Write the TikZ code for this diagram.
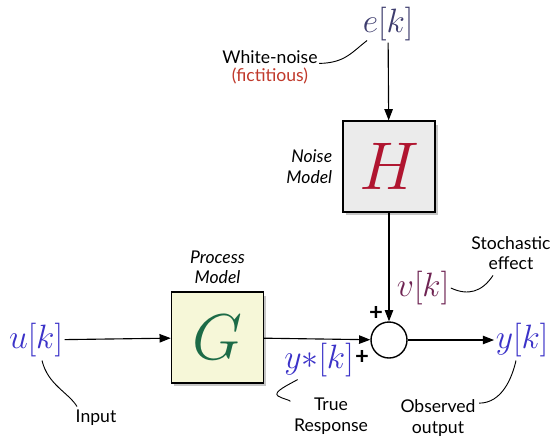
\RequirePackage{fix-cm}
\documentclass[tikz,border=0pt]{standalone}
\usepackage{fontspec}
\setmainfont{Lato}
\usetikzlibrary{positioning,shadows,arrows.meta,calc}
\definecolor{sigblue}{HTML}{3B32C8}
\definecolor{noisecol}{HTML}{3E3D6E}
\definecolor{vcol}{HTML}{6E2352}
\definecolor{hred}{HTML}{B01530}
\definecolor{ggreen}{HTML}{1C6B47}
\definecolor{fictred}{HTML}{C0392B}
\definecolor{hfill}{HTML}{EBEBEB}
\definecolor{gfill}{HTML}{F6F7D8}

\begin{document}
\begin{tikzpicture}[x=0.025cm, y=-0.025cm, >={Triangle[length=8pt,width=6pt]}]
    \tikzset{block/.style={draw, line width=1pt, minimum width=2.3cm, minimum height=2.27cm,
               drop shadow={opacity=0.45, shadow xshift=2pt, shadow yshift=-2.5pt}},
             sig/.style={font=\fontsize{24}{26}\selectfont, inner sep=1pt},
             note/.style={font=\fontsize{12.5}{14.5}\selectfont, align=center, inner sep=1pt},
             plus/.style={font=\fontsize{17}{17}\selectfont\bfseries, inner sep=0pt},
             lead/.style={line width=0.65pt}}
    \useasboundingbox (0,0) rectangle (551,437);
    \node[block, fill=hfill] (H) at (389,166.5)
      {\fontsize{48}{50}\selectfont\color{hred}$H$};
    \node[block, fill=gfill] (G) at (217.5,337.5)
      {\fontsize{46}{48}\selectfont\color{ggreen}$G$};
    \node[draw, circle, line width=1pt, fill=white, minimum size=0.9cm] (sum) at (389,340) {};
    \node[note, font=\fontsize{12.5}{14.5}\selectfont\itshape, align=right, left=6pt of H] {Noise\\Model};
    \node[note, font=\fontsize{12.5}{14.5}\selectfont\itshape, above=4pt of G] {Process\\Model};
    \node[sig, text=noisecol] (e) at (388,24) {$e[k]$};
    \node[note] (wn) at (270,57) {White-noise};
    \node[note, text=fictred, below=1pt of wn] (fict) {(fictitious)};
    \node[sig, text=sigblue] (u) at (36,340) {$u[k]$};
    \node[sig, text=sigblue] (ys) at (319,360) {$y{*}[k]$};
    \node[sig, text=sigblue] (y) at (522,340) {$y[k]$};
    \node[sig, text=vcol] (v) at (423,288) {$v[k]$};
    \node[plus] (p1) at (376,313) {+};
    \node[plus] (p2) at (362,357) {+};
    \node[note] (stoch) at (511,253) {Stochastic\\effect};
    \node[note] (input) at (96,418) {Input};
    \node[note] (true) at (331,416) {True\\Response};
    \node[note] (obs) at (438,418) {Observed\\output};

    \draw[->, line width=0.8pt] (e) -- (H);
    \draw[->, line width=0.8pt] (H) -- (sum);
    \draw[->, line width=0.8pt] (u) -- (G);
    \draw[->, line width=0.8pt] (G) -- (sum);
    \draw[->, line width=0.8pt] (sum) -- (y);

    \draw[lead] (wn.base east) .. controls (345,63) and (352,52) .. ($(e.south west)+(6,-2)$);
    \draw[lead] (v.east) .. controls (468,296) and (482,292) .. ($(stoch.south)+(-18,4)$);
    \draw[lead] ($(u.south)+(6,2)$) .. controls (48,385) and (68,392) .. ($(input.north west)+(3,-2)$);
    \draw[lead] ($(ys.south west)+(15,1)$) .. controls (290,384) and (272,392) .. (278,396)
       .. controls (283,399) and (290,400) .. ($(true.north west)+(-2,5)$);
    \draw[lead] ($(obs.north east)+(2,5)$) .. controls (502,403) and (512,378) .. ($(y.south)+(-6,2)$);
\end{tikzpicture}
\end{document}
